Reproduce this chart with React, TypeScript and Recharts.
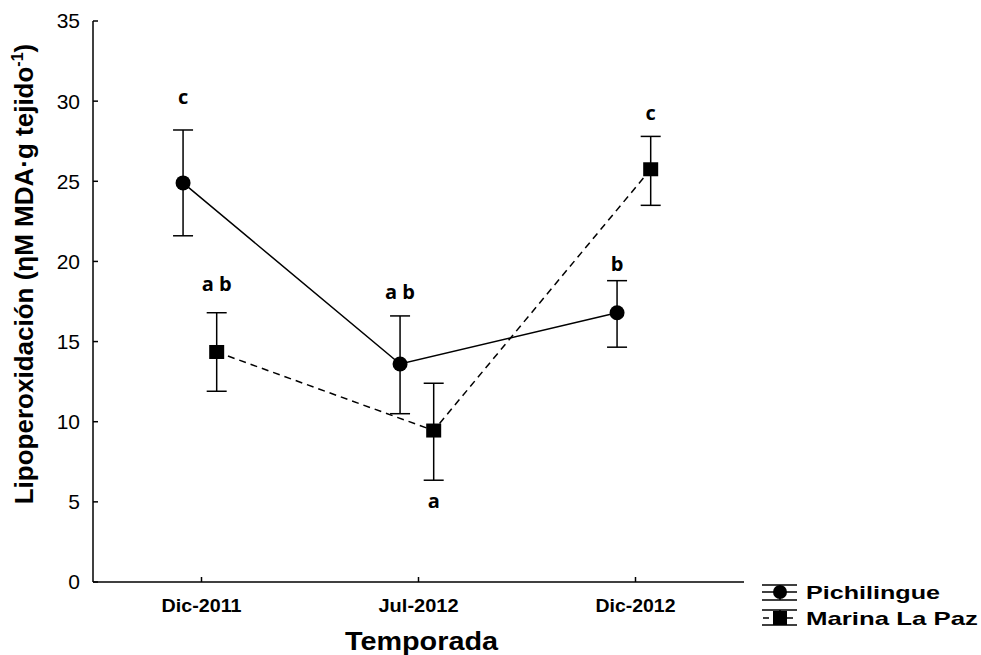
import React from 'react';
import {
  ComposedChart,
  Line,
  Scatter,
  XAxis,
  YAxis,
  ErrorBar,
} from 'recharts';

const categories = ['Dic-2011', 'Jul-2012', 'Dic-2012'];
const yTicks = [0, 5, 10, 15, 20, 25, 30, 35];

const pichilingueMean = [24.9, 13.6, 16.8];
const pichilingueLow = [21.6, 10.5, 14.65];
const pichilingueHigh = [28.2, 16.6, 18.8];
const pichilingueLetters = ['c', 'a b', 'b'];
const pichilingueLetterY = [30.3, 18.15, 19.9];

const marinaMean = [14.35, 9.45, 25.75];
const marinaLow = [11.9, 6.35, 23.5];
const marinaHigh = [16.8, 12.4, 27.8];
const marinaLetters = ['a b', 'a', 'c'];
const marinaLetterY = [18.65, 5.1, 29.3];

// small horizontal offset so the two series don't overlap
const pichilingueShift = -0.085;
const marinaShift = 0.07;

const FONT = '"Liberation Sans", Arial, sans-serif';

const pichilingueData = categories.map((c, i) => ({
  x: i + pichilingueShift,
  y: pichilingueMean[i],
  err: [pichilingueMean[i] - pichilingueLow[i], pichilingueHigh[i] - pichilingueMean[i]],
}));

const marinaData = categories.map((c, i) => ({
  x: i + marinaShift,
  y: marinaMean[i],
  err: [marinaMean[i] - marinaLow[i], marinaHigh[i] - marinaMean[i]],
}));

const letterData = [
  ...categories.map((c, i) => ({ x: i + pichilingueShift, y: pichilingueLetterY[i], label: pichilingueLetters[i] })),
  ...categories.map((c, i) => ({ x: i + marinaShift, y: marinaLetterY[i], label: marinaLetters[i] })),
];

const CircleDot = (props: any) => {
  const { cx, cy } = props;
  if (cx == null || cy == null) return null;
  return <circle cx={cx} cy={cy} r={7.5} fill="#000" />;
};

const SquareDot = (props: any) => {
  const { cx, cy } = props;
  if (cx == null || cy == null) return null;
  return <rect x={cx - 7.5} y={cy - 7} width={15} height={14} fill="#000" />;
};

const LetterShape = (props: any) => {
  const { cx, cy, payload } = props;
  return (
    <text
      x={cx}
      y={cy}
      textAnchor="middle"
      dominantBaseline="central"
      fontFamily='"Open Sans", sans-serif'
      fontWeight={700}
      fontSize={20}
      fill="#000"
    >
      {payload.label}
    </text>
  );
};

const XTick = (props: any) => {
  const { x, y, payload } = props;
  return (
    <text
      x={x}
      y={y + 13}
      textAnchor="middle"
      fontFamily={FONT}
      fontWeight={700}
      fontSize={18}
      textLength={80}
      lengthAdjust="spacingAndGlyphs"
      fill="#000"
    >
      {categories[Math.round(payload.value)]}
    </text>
  );
};

const XTitle = (props: any) => {
  const vb = props.viewBox || { x: 93, width: 651 };
  return (
    <text
      x={vb.x + vb.width / 2 + 3}
      y={650}
      textAnchor="middle"
      fontFamily={FONT}
      fontWeight={700}
      fontSize={25}
      textLength={153}
      lengthAdjust="spacingAndGlyphs"
      fill="#000"
    >
      Temporada
    </text>
  );
};

const YTitle = () => (
  <text
    x={33}
    y={274}
    transform="rotate(-90 33 274)"
    textAnchor="middle"
    fontFamily={FONT}
    fontWeight={700}
    fontSize={26}
    fill="#000"
  >
    Lipoperoxidación (ηM MDA·g tejido
    <tspan fontSize={16} dy={-10}>-1</tspan>
    <tspan dy={10}>)</tspan>
  </text>
);

const LegendBox = () => (
  <svg width={231} height={60} style={{ position: 'absolute', left: 750, top: 575 }}>
    <g stroke="#000" strokeWidth={1.5}>
      <line x1={12} y1={10} x2={47} y2={10} />
      <line x1={12} y1={17} x2={47} y2={17} />
      <line x1={12} y1={25} x2={47} y2={25} />
      <line x1={30} y1={10} x2={30} y2={25} />
      <line x1={12} y1={35} x2={47} y2={35} />
      <line x1={12} y1={43} x2={47} y2={43} strokeDasharray="6 6" strokeDashoffset={-1} />
      <line x1={12} y1={50} x2={47} y2={50} />
      <line x1={30} y1={35} x2={30} y2={50} />
    </g>
    <circle cx={30} cy={17} r={7} fill="#000" />
    <rect x={23} y={36} width={14} height={14} fill="#000" />
    <text x={56} y={24} fontFamily={FONT} fontWeight={700} fontSize={19} textLength={134} lengthAdjust="spacingAndGlyphs">
      Pichilingue
    </text>
    <text x={56} y={50} fontFamily={FONT} fontWeight={700} fontSize={19} textLength={172} lengthAdjust="spacingAndGlyphs">
      Marina La Paz
    </text>
  </svg>
);

export default function App() {
  return (
    <div style={{ position: 'absolute', left: 0, top: 0, width: 981, height: 655, background: '#fff' }}>
      <ComposedChart
        width={981}
        height={655}
        margin={{ top: 21, right: 237, bottom: 0, left: 0 }}
      >
        <XAxis
          type="number"
          dataKey="x"
          domain={[-0.5, 2.5]}
          ticks={[0, 1, 2]}
          allowDataOverflow
          height={73}
          stroke="#000"
          strokeWidth={1.5}
          tickSize={-5}
          tickMargin={22}
          tick={<XTick />}
          label={<XTitle />}
        />
        <YAxis
          type="number"
          domain={[0, 35]}
          ticks={yTicks}
          width={93}
          stroke="#000"
          strokeWidth={1.5}
          tickSize={-5}
          tickMargin={18}
          tick={{ fontFamily: FONT, fontSize: 21, fill: '#000' }}
          label={<YTitle />}
        />
        <Line
          data={pichilingueData}
          dataKey="y"
          name="Pichilingue"
          stroke="#000"
          strokeWidth={1.5}
          dot={<CircleDot />}
          activeDot={false}
          isAnimationActive={false}
        >
          <ErrorBar dataKey="err" direction="y" width={10} stroke="#000" strokeWidth={1.5} isAnimationActive={false} />
        </Line>
        <Line
          data={marinaData}
          dataKey="y"
          name="Marina La Paz"
          stroke="#000"
          strokeWidth={1.5}
          strokeDasharray="7 5"
          dot={<SquareDot />}
          activeDot={false}
          isAnimationActive={false}
        >
          <ErrorBar dataKey="err" direction="y" width={10} stroke="#000" strokeWidth={1.5} isAnimationActive={false} />
        </Line>
        <Scatter data={letterData} dataKey="y" shape={<LetterShape />} isAnimationActive={false} legendType="none" />
      </ComposedChart>
      <LegendBox />
    </div>
  );
}
